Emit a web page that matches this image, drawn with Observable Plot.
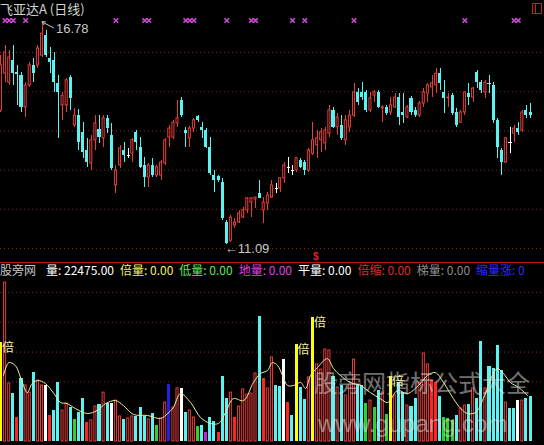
<!DOCTYPE html>
<html>
<head>
<meta charset="utf-8">
<script src="https://cdn.jsdelivr.net/npm/d3@7"></script>
<script src="https://cdn.jsdelivr.net/npm/@observablehq/plot@0.6"></script>
<style>
  html, body { margin: 0; padding: 0; background: #000; }
  #chart { position: relative; width: 544px; height: 445px; overflow: hidden; background: #000;
           font-family: "Noto Sans CJK SC", "Liberation Sans", sans-serif; }
  #price { position: absolute; left: 0; top: 0; }
  #volume { position: absolute; left: 0; top: 263px; }
  #sep { position: absolute; left: 0; top: 262px; width: 544px; height: 1px; background: #b41414; }
  #title { position: absolute; left: 0; top: 1px; font-size: 13px; line-height: 16px; color: #d2d2d2; white-space: nowrap; }
  #icon { position: absolute; left: 532px; top: 3px; width: 8px; height: 9px; border: 1px solid #c81e1e; }
  #icon::before { content: ""; position: absolute; left: 2px; top: 0; width: 1px; height: 9px; background: #c81e1e; }
  #legend { position: absolute; left: 0; top: 263px; display: flex; gap: 6px; font-size: 12px; line-height: 14px; white-space: nowrap; }
  #legend .name { color: #c4c4c4; margin-right: 4px; }
  #mark { position: absolute; left: 314px; top: 367px; font-size: 24px; line-height: 30px; color: rgba(225,225,225,0.5); white-space: nowrap; }
  #site { position: absolute; left: 318px; top: 410px; font-family: "Liberation Sans", sans-serif; font-size: 24px; line-height: 28px; color: rgba(225,225,225,0.5); white-space: nowrap; }
</style>
</head>
<body>
<div id="chart">
  <div id="price"></div>
  <div id="sep"></div>
  <div id="volume"></div>
  <div id="title"></div>
  <div id="icon"></div>
  <div id="legend"></div>
  <div id="mark"></div>
  <div id="site"></div>
</div>
<script>
// Daily candles, oldest first
const openP = [14.52,15.46,15.23,15.80,15.49,15.41,14.60,15.16,15.67,15.67,15.92,16.43,15.85,15.80,15.21,14.65,14.65,15.36,14.14,14.39,
  13.96,13.50,13.17,13.76,14.04,13.81,14.32,13.88,12.61,13.12,13.50,13.37,13.42,13.96,13.58,13.12,12.81,13.12,12.86,12.86,
  13.17,13.83,13.83,14.19,14.78,14.01,13.81,14.06,14.37,14.09,14.01,13.58,12.86,12.84,12.68,11.66,11.20,11.59,11.66,11.79,
  11.97,12.17,12.25,12.40,11.97,12.15,12.30,12.53,12.53,12.79,13.07,12.99,12.99,13.24,13.19,12.99,13.42,13.63,13.76,13.68,
  13.93,14.52,14.09,14.14,13.76,14.09,14.39,14.98,14.98,14.98,14.52,14.90,14.98,14.57,14.60,14.47,14.60,14.85,14.47,14.34,
  14.83,14.52,14.39,14.70,14.95,15.11,15.16,15.46,14.98,14.83,14.90,14.47,14.21,14.47,14.95,14.85,15.49,15.23,14.98,15.21,
  15.16,14.27,13.50,13.19,13.70,13.93,14.06,14.01,14.52,14.47];
const highP = [15.92,16.18,16.05,16.18,15.67,15.49,15.23,15.74,15.85,16.18,16.78,16.56,16.13,16.00,15.41,14.98,15.34,15.41,14.57,14.55,
  14.21,13.81,13.88,14.39,14.39,14.39,14.39,14.19,13.12,13.63,13.70,13.55,13.81,14.01,13.83,13.32,13.17,13.30,13.12,13.24,
  13.81,14.14,14.27,14.78,14.85,14.09,14.11,14.32,14.39,14.21,14.06,13.83,12.99,12.86,12.79,11.71,11.84,11.77,11.97,12.05,
  12.30,12.30,12.30,12.73,12.30,12.43,12.73,12.66,12.81,13.19,13.32,13.12,13.32,13.30,13.24,13.55,14.21,14.01,14.06,14.09,
  14.65,14.60,14.44,14.39,14.39,14.52,15.21,15.08,15.23,15.03,14.98,15.03,15.03,14.65,14.65,14.85,14.95,14.95,14.95,14.65,
  14.88,14.60,14.75,15.08,15.21,15.41,15.59,15.59,15.29,14.95,14.95,14.57,14.52,14.98,15.21,15.11,15.54,15.29,15.29,15.41,
  15.23,14.32,13.55,13.83,14.09,14.14,14.21,14.52,14.65,14.70];
const lowP = [14.47,15.23,15.16,15.16,14.65,14.47,14.34,15.11,15.23,15.59,15.87,15.87,15.46,14.98,13.81,14.27,14.47,14.52,14.09,13.50,
  13.30,13.07,12.99,13.50,13.68,13.58,13.93,12.99,12.40,13.04,13.19,13.30,13.19,13.50,13.04,12.56,12.56,12.81,12.81,12.73,
  13.12,13.58,13.78,14.09,14.34,13.58,13.58,13.96,14.21,13.81,13.55,12.86,12.43,12.68,11.71,11.09,11.15,11.51,11.64,11.77,
  11.89,11.79,12.02,12.28,11.64,11.97,12.28,12.40,12.43,12.66,12.91,12.86,12.94,13.04,12.86,12.94,13.37,13.30,13.45,13.50,
  13.83,14.06,13.88,13.76,13.63,13.96,14.34,14.65,14.78,14.47,14.47,14.72,14.57,14.21,14.39,14.39,14.57,14.14,14.19,14.32,
  14.39,14.34,14.34,14.60,14.72,14.85,14.95,15.03,14.44,14.60,14.39,14.09,14.19,14.39,14.65,14.72,15.08,14.95,14.83,14.95,
  14.19,13.30,12.86,13.17,13.42,13.70,13.88,13.96,14.32,14.32];
const closeP = [15.67,16.00,15.87,15.46,15.44,14.60,15.16,15.67,15.46,16.10,16.48,15.92,15.74,15.23,14.98,14.90,15.29,14.83,14.39,13.70,
  13.45,13.19,13.76,14.19,13.83,14.32,14.06,13.04,12.99,13.55,13.37,13.37,13.76,13.70,13.07,12.81,13.12,12.86,13.07,13.19,
  13.76,14.06,14.21,14.32,14.39,13.93,14.06,14.27,14.27,14.01,13.58,12.91,12.73,12.73,11.77,11.13,11.79,11.66,11.89,11.97,
  12.28,12.28,12.30,12.28,12.17,12.35,12.61,12.53,12.79,13.12,13.07,12.99,13.30,13.07,12.99,13.50,13.76,13.81,13.96,14.01,
  14.52,14.09,14.34,13.81,14.27,14.39,14.98,14.72,14.85,14.52,14.83,14.98,14.60,14.60,14.44,14.65,14.85,14.34,14.39,14.60,
  14.47,14.39,14.70,14.98,15.16,15.21,15.46,15.21,14.83,14.85,14.44,14.14,14.47,14.98,14.85,15.08,15.23,15.03,15.23,15.18,
  14.27,13.58,13.19,13.81,13.70,14.06,13.96,14.47,14.39,14.39];

// Daily volume (hands) and its class: u rise, d fall, w flat, y doubled, g low, m ground, r halved, b blue
const volumes = [49800,80000,29200,24100,12100,31700,28200,24600,34700,30700,28200,28200,13100,15600,29700,15600,19100,17100,11100,14600,
  21600,9600,10600,17600,18600,24600,19100,19100,20600,12600,11100,11600,12600,12600,17100,12600,11100,14100,8000,11600,
  19600,28700,17100,26700,26700,14600,15600,12100,7500,8000,4500,12100,10100,4500,32700,21600,24600,12100,17600,26200,
  23600,24100,34200,62900,31700,26700,42300,28200,27700,41200,19600,13100,48800,27200,21100,32200,62400,38800,36200,46300,
  45800,32700,27200,28200,23100,28200,41200,28700,28200,19100,20600,17100,25700,24600,13600,32700,23100,29700,24600,18100,
  17600,21600,29700,44300,38800,30700,29700,22600,12100,11600,10600,13100,16600,18100,18600,26700,21600,50300,26700,37700,
  36700,48300,35700,19600,16600,16600,20600,20600,21600,22475];
const volClass = [
  "yuudrduudu", "uwrdduudgd", "druududwuu", "duudddudgu", "ubuuwduugd",
  "mddrdduruu", "uuudruuddw", "rdydduyuuu", "ududuuuddg", "ugdugyuddu",
  "dduuurrdgg", "gduududdud", "ddduddwudd"
].join("").split("");

// Volume moving-average line, sampled along its course
const maK = [0.6,1.9,3.5,5.2,6.4,7.6,9.0,10.8,12.9,14.5,16.1,18.1,21.0,23.4,25.5,27.9,29.8,32.3,35.7,38.9,40.6,42.0,43.7,46.2,48.6,
  51.0,53.0,54.7,56.6,59.1,61.5,63.2,64.9,66.1,67.4,68.6,69.8,71.3,73.0,74.2,75.4,77.1,79.5,81.0,82.7,85.1,87.6,90.0,92.4,94.2,
  96.6,99.0,101.7,103.9,105.8,107.8,110.2,112.0,113.6,115.6,117.5,119.7,120.9,122.4,124.1,126.1,128.3];
const maV = [33200,39700,38200,29700,24600,29200,30700,29200,24100,19600,19100,16600,14100,15600,19100,20600,18100,13600,13100,11600,14100,
  17100,24100,19600,12100,9100,9100,14600,21600,20600,29700,34200,35700,39700,38200,33200,28200,28200,29700,26700,33200,37200,
  41700,36700,33200,29700,28200,24600,21600,19600,25700,24100,28200,33200,34700,29700,21600,16600,14100,14600,21600,33200,36700,
  34200,29700,27200,23100];

// Signal days marked along the top, and the day flagged below the candles
const signalDays = [1,2,3,6,28,35,36,45,46,47,55,61,62,71,74,86,113,125,126];
const flagDays = [76];

const priceGrid = [11, 12, 13, 14, 15, 16];
const volumeGrid = [30000, 45000, 60000, 75000];

const titleText = "飞亚达A (日线)";
const indicatorName = "股旁网";
const legendNames = ["量", "倍量", "低量", "地量", "平量", "倍缩", "梯量", "缩量涨"];
const legendValues = [null, 0, 0, 0, 0, 0, 0, 0];
const legendDigits = [2, 2, 2, 2, 2, 2, 2, 0];
const legendColors = ["#ffffff", "#eeee6a", "#5ce65c", "#e040e0", "#ffffff", "#e02828", "#8c8c8c", "#2c2cff"];
const watermark = "股旁网指标公式大全";
const watermarkSite = "www.gupang.com";

const UP = "#e63c3c", DOWN = "#5cf2f2", FLAT = "#ffffff";
const CLASS_COLOR = {u: UP, d: DOWN, w: "#ffffff", y: "#ffff00", g: "#2ed22e", m: "#c028c8", r: "#ff2424", b: "#2020e6"};
const GRID = "#8c2424";
const xDomain = [-0.12, 132.4];

const candles = openP.map((o, k) => ({k, open: o, high: highP[k], low: lowP[k], close: closeP[k]}));
const tone = d => d.close > d.open ? UP : d.close < d.open ? DOWN : FLAT;
const rising = candles.filter(d => d.close > d.open);
const falling = candles.filter(d => d.close < d.open);
const level = candles.filter(d => d.close === d.open);
const peak = d3.greatest(candles, d => d.high);
const trough = d3.least(candles, d => d.low);

const priceChart = Plot.plot({
  width: 544, height: 262, margin: 0,
  style: {background: "#000", fontFamily: "Liberation Sans, sans-serif", overflow: "visible"},
  x: {domain: xDomain, axis: null},
  y: {domain: [10.643, 17.3265], axis: null},
  marks: [
    Plot.ruleY(priceGrid, {stroke: GRID, strokeDasharray: "1,3"}),
    Plot.ruleX(candles, {x: "k", y1: "low", y2: "high", stroke: tone, shapeRendering: "crispEdges"}),
    Plot.rect(rising, {x1: d => d.k - 0.25, x2: d => d.k + 0.25, y1: "open", y2: "close", fill: "#000", stroke: UP}),
    Plot.rect(falling, {x1: d => d.k - 0.37, x2: d => d.k + 0.37, y1: "open", y2: "close", fill: DOWN, shapeRendering: "crispEdges"}),
    Plot.link(level, {x1: d => d.k - 0.37, x2: d => d.k + 0.37, y1: "close", y2: "close", stroke: FLAT, shapeRendering: "crispEdges"}),
    Plot.dot(signalDays, {x: d => d, frameAnchor: "top", dy: 20, symbol: "times", r: 2.2, stroke: "#d048d8", strokeWidth: 1.6}),
    Plot.arrow([peak], {x1: d => d.k + 2.8, y1: d => d.high - 0.15, x2: "k", y2: "high", stroke: "#c8c8c8", headLength: 5, strokeWidth: 1}),
    Plot.text([peak], {x: "k", y: "high", text: d => d.high.toFixed(2), textAnchor: "start", dx: 14, dy: 7, fill: "#c8c8c8", fontSize: 13}),
    Plot.text([trough], {x: "k", y: "low", text: d => "←" + d.low.toFixed(2), textAnchor: "start", dx: -2, dy: 4, fill: "#c8c8c8", fontSize: 13}),
    Plot.text(flagDays, {x: d => d, frameAnchor: "bottom", text: () => "$", textAnchor: "start", lineAnchor: "bottom", dy: -3, fill: "#e02020", fontSize: 10, fontWeight: "bold"})
  ]
});
document.getElementById("price").appendChild(priceChart);

const bars = volumes.map((v, k) => ({k, v, c: volClass[k]}));
const hollowBars = bars.filter(d => d.c === "u");
const solidBars = bars.filter(d => d.c !== "u");
const doubled = bars.filter(d => d.c === "y");
const maLine = maK.map((k, i) => ({k, v: maV[i]}));

const volumeChart = Plot.plot({
  width: 544, height: 182, margin: 0,
  style: {background: "#000", fontFamily: "Noto Sans CJK SC, sans-serif", overflow: "hidden"},
  x: {domain: xDomain, axis: null},
  y: {domain: [-2013, 89597], axis: null},
  marks: [
    Plot.ruleY(volumeGrid, {stroke: GRID, strokeDasharray: "1,3"}),
    Plot.rect(hollowBars, {x1: d => d.k - 0.25, x2: d => d.k + 0.25, y1: 0, y2: "v", fill: "#000", stroke: UP}),
    Plot.rect(solidBars, {x1: d => d.k - 0.37, x2: d => d.k + 0.37, y1: 0, y2: "v", fill: d => CLASS_COLOR[d.c], shapeRendering: "crispEdges"}),
    Plot.line(maLine, {x: "k", y: "v", curve: "catmull-rom", stroke: "#ecec9c", strokeWidth: 1}),
    Plot.text(doubled, {x: "k", y: "v", text: () => "倍", textAnchor: "start", lineAnchor: "top", dx: 1, dy: 1, fill: "#f4f4a0", fontSize: 12})
  ]
});
document.getElementById("volume").appendChild(volumeChart);

document.getElementById("title").textContent = titleText;

const legend = document.getElementById("legend");
const nameSpan = document.createElement("span");
nameSpan.className = "name";
nameSpan.textContent = indicatorName;
legend.appendChild(nameSpan);
legendNames.forEach((name, i) => {
  const value = i === 0 ? volumes[volumes.length - 1] : legendValues[i];
  const s = document.createElement("span");
  s.style.color = legendColors[i];
  s.textContent = name + ": " + value.toFixed(legendDigits[i]);
  legend.appendChild(s);
});

document.getElementById("mark").textContent = watermark;
document.getElementById("site").textContent = watermarkSite;
</script>
</body>
</html>
